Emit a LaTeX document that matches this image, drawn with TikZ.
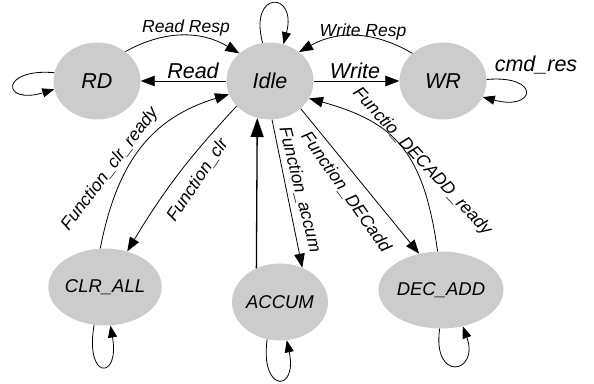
\documentclass[tikz,border=0pt]{standalone}
\usepackage{fontspec}
\setmainfont{Liberation Sans}
\usetikzlibrary{arrows.meta,shapes.geometric}
\definecolor{stgray}{RGB}{204,204,204}
\begin{document}
\begin{tikzpicture}[x=1pt,y=1pt,
  statenode/.style={ellipse, fill=stgray, minimum width=87pt, minimum height=77pt, inner sep=0pt,
    font=\itshape\fontsize{21.5}{24}\selectfont},
  smallstate/.style={statenode, font=\itshape\fontsize{18.5}{21}\selectfont},
  arr/.style={-{Triangle[length=14pt,width=10.5pt]}, line width=0.8pt},
  looparr/.style={-{Triangle[length=12pt,width=9pt]}, line width=0.8pt},
  bigarr/.style={-{Triangle[length=19pt,width=13pt]}, line width=1.3pt},
  lbl/.style={font=\itshape\fontsize{17.5}{20}\selectfont, inner sep=0pt},
  biglbl/.style={font=\itshape\fontsize{21.5}{24}\selectfont, inner sep=0pt},
]
\useasboundingbox (0,0) rectangle (594,383);

\node[statenode] (Idle) at (270,302) {Idle};
\node[statenode] (RD) at (97,302) {RD};
\node[statenode] (WR) at (443,302) {WR};
\node[smallstate] (CLR) at (105,96) {CLR\_ALL};
\node[smallstate] (ACCUM) at (280,81) {ACCUM};
\node[smallstate] (DEC) at (441,93) {DEC\_ADD};

% top row
\draw[arr] (Idle.west) -- (RD.east) node[biglbl, anchor=base] at (193,304.7) {Read};
\draw[arr] (Idle.east) -- (WR.west) node[biglbl, anchor=base] at (355,304.7) {Write};
\draw[arr] (RD.46) to[bend left=30] (Idle.138) node[lbl, anchor=base] at (186,350.3) {Read Resp};
\draw[arr] (WR.138) to[bend right=30] (Idle.45) node[lbl, anchor=base] at (363,346.3) {Write Resp};

% self loops
\draw[looparr] (Idle.101) .. controls +(105:55) and +(75:55) .. (Idle.70);
\draw[looparr] (WR.2) .. controls +(5:55) and +(-15:55) .. (WR.-22)
  node[biglbl, anchor=base] at (536,311.3) {cmd\_res};
\draw[looparr] (RD.169) .. controls +(175:55) and +(197:55) .. (RD.191);
\draw[looparr] (CLR.254) .. controls +(260:56) and +(280:56) .. (CLR.278);
\draw[looparr] (ACCUM.251) .. controls +(262:54) and +(282:54) .. (ACCUM.280);
\draw[looparr] (DEC.268) .. controls +(262:55) and +(290:50) .. (DEC.301);

% function edges
\draw[arr] (CLR.97) .. controls +(79:90) and +(197:80) .. (Idle.198)
  node[lbl, rotate=53] at (110,214) {Function\_clr\_ready};
\draw[arr] (Idle.217) to[bend right=6] (CLR.58)
  node[lbl, rotate=56] at (197.5,203) {Function\_clr};
\draw[bigarr] (ACCUM.125) -- (Idle.251);
\draw[arr] (Idle.-87) -- (ACCUM.57)
  node[lbl, rotate=-76] at (300,193) {Function\_accum};
\draw[arr] (Idle.-42) -- (DEC.121)
  node[lbl, rotate=-55] at (346,191) {Function\_DECadd};
\draw[arr] (DEC.95) .. controls +(98:100) and +(-15.5:90) .. (Idle.-24)
  node[lbl, rotate=-47] at (422,221) {Functio\_DECADD\_ready};
\end{tikzpicture}
\end{document}
